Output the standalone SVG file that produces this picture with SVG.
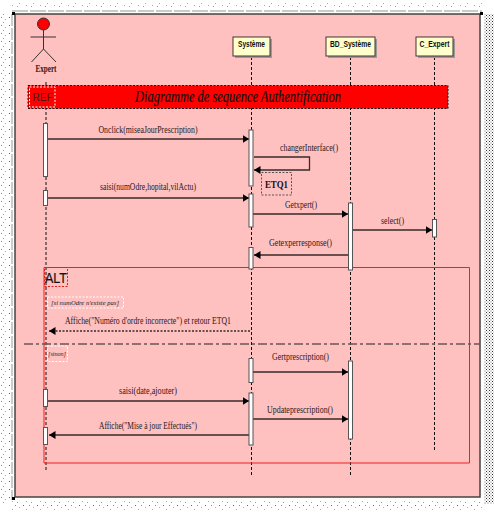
<svg xmlns="http://www.w3.org/2000/svg" width="494" height="512" viewBox="0 0 494 512">
<style>
.life{stroke:#111;stroke-width:1;stroke-dasharray:3 2;fill:none}
.act{fill:#fff;stroke:#555;stroke-width:1}
.msg{stroke:#3a2a2a;stroke-width:1.3;fill:none}
.node{fill:#ffffcc;stroke:#443333;stroke-width:1}
.shadow{fill:#999}
.nt{font-family:"Liberation Sans",sans-serif;font-size:8.5px;font-weight:bold;fill:#111;text-anchor:middle}
.lb{font-family:"Liberation Serif",serif;font-size:9.5px;fill:#2a1a1a;text-anchor:middle}
.small{font-family:"Liberation Serif",serif;font-size:6.5px;font-style:italic;fill:#222}
.box{fill:none;stroke:#fff;stroke-width:1;stroke-dasharray:2 1.5}
</style>
<defs>
<marker id="ah" markerWidth="7" markerHeight="9" refX="6.5" refY="4" orient="auto" markerUnits="userSpaceOnUse"><path d="M0 0L6.500 4L0 8Z" fill="#000"/></marker>
<pattern id="lt" width="14" height="8" patternUnits="userSpaceOnUse"><rect x="1" y="1" width="1" height="1" fill="#888"/><rect x="5" y="3" width="1" height="1" fill="#aaa"/><rect x="9" y="1" width="1" height="1" fill="#666"/><rect x="12" y="5" width="1" height="1" fill="#aaa"/><rect x="3" y="6" width="1" height="1" fill="#999"/></pattern>
<pattern id="dk" width="3" height="3" patternUnits="userSpaceOnUse"><rect width="1" height="1" fill="#333"/><rect x="1.500" y="1.500" width="1" height="1" fill="#666"/></pattern>
</defs>
<rect width="494" height="512" fill="#fff"/>
<rect x="12" y="2" width="470" height="5" fill="url(#lt)"/>
<rect x="12" y="501" width="470" height="9" fill="url(#lt)"/>
<rect x="1" y="14" width="10" height="490" fill="url(#lt)"/>
<rect x="484" y="14" width="10" height="490" fill="url(#dk)"/>
<rect x="15" y="14" width="465" height="483" fill="#ffc0c0" stroke="#444" stroke-width="1.500"/>
<path d="M12 11H482" stroke="#bbb" stroke-width="1.500" stroke-dasharray="16 2" fill="none"/>
<path d="M12 14V500" stroke="#ccc" stroke-width="2" stroke-dasharray="12 2" fill="none"/>
<rect x="12" y="12" width="3" height="3" fill="#000"/><rect x="12" y="497" width="3" height="3" fill="#000"/><rect x="480" y="12" width="3" height="3" fill="#000"/>

<g id="connectors">
<path class="life" d="M46 82V470"/>
<path class="life" d="M251.500 57V475"/>
<path class="life" d="M350.500 57V475"/>
<path class="life" d="M434.500 57V451"/>
<path d="M44 463V267.500H469.500V463H44Z" fill="none" stroke="#f02020" stroke-width="1"/>
<path d="M24 344H480" stroke="#6b5555" stroke-width="1.500" stroke-dasharray="9 3 3 3" fill="none"/>
</g>

<g id="banner">
<rect x="28" y="85.500" width="420" height="23" fill="#ff0000" stroke="#111" stroke-dasharray="2 1.500"/>
<rect x="29.500" y="87" width="25.500" height="20" class="box"/>
<text x="42.500" y="100.500" font-family="Liberation Sans,sans-serif" font-size="11" fill="#222" text-anchor="middle" textLength="20" lengthAdjust="spacingAndGlyphs">REF</text>
<text x="238" y="102" font-family="Liberation Serif,serif" font-size="17" font-style="italic" fill="#111" stroke="#111" stroke-width="0.2" text-anchor="middle" textLength="206" lengthAdjust="spacingAndGlyphs">Diagramme de sequence Authentification</text>
</g>

<g id="actor-expert">
<circle cx="43.500" cy="24" r="6" fill="#ff0000" stroke="#333"/>
<path d="M43.500 30V49M30.500 37H56M43.500 49L31.500 62M43.500 49L56 62" stroke="#333" stroke-width="1" fill="none"/>
<text x="46" y="72" class="lb" font-weight="bold" textLength="21" lengthAdjust="spacingAndGlyphs">Expert</text>
</g>

<g id="node-systeme"><rect x="235" y="39" width="37" height="19" class="shadow"/><rect x="233" y="37" width="37" height="19" class="node"/><text x="251.500" y="47" class="nt" textLength="27" lengthAdjust="spacingAndGlyphs">Système</text></g>
<g id="node-bd"><rect x="328" y="39" width="49" height="19" class="shadow"/><rect x="326" y="37" width="49" height="19" class="node"/><text x="350.500" y="47" class="nt" textLength="41" lengthAdjust="spacingAndGlyphs">BD_Système</text></g>
<g id="node-cexpert"><rect x="418" y="39" width="37" height="19" class="shadow"/><rect x="416" y="37" width="37" height="19" class="node"/><text x="434.500" y="47" class="nt" textLength="30" lengthAdjust="spacingAndGlyphs">C_Expert</text></g>

<g id="messages">
<path class="msg" marker-end="url(#ah)" d="M48 139H249"/>
<path class="msg" marker-end="url(#ah)" d="M254 157H309.500V170H254"/>
<path class="msg" marker-end="url(#ah)" d="M48 198H249"/>
<path class="msg" marker-end="url(#ah)" d="M253 214H348"/>
<path class="msg" marker-end="url(#ah)" d="M352 230H432"/>
<path class="msg" marker-end="url(#ah)" d="M348 255H254"/>
<path class="msg" marker-end="url(#ah)" stroke-dasharray="2 1.500" d="M250 331H49"/>
<path class="msg" marker-end="url(#ah)" d="M253 372H348"/>
<path class="msg" marker-end="url(#ah)" d="M48 401H249"/>
<path class="msg" marker-end="url(#ah)" d="M253 419H348"/>
<path class="msg" marker-end="url(#ah)" d="M249 435H49"/>
</g>

<g id="activations">
<rect class="act" x="43.500" y="123.500" width="4" height="53"/>
<rect class="act" x="43.500" y="190.500" width="4" height="15"/>
<rect class="act" x="43.500" y="389.500" width="4" height="17"/>
<rect class="act" x="43.500" y="427.500" width="4" height="17"/>
<rect class="act" x="249" y="130" width="4" height="56"/>
<rect class="act" x="249" y="194" width="4" height="33"/>
<rect class="act" x="249" y="247.500" width="4" height="21.500"/>
<rect class="act" x="249" y="358.500" width="4" height="24"/>
<rect class="act" x="249" y="393" width="4" height="52"/>
<rect class="act" x="348.500" y="203" width="4" height="67"/>
<rect class="act" x="348.500" y="361" width="4" height="78"/>
<rect class="act" x="432.500" y="219.500" width="4" height="17.500"/>
</g>

<g id="labels">
<text x="148" y="133" class="lb" textLength="99" lengthAdjust="spacingAndGlyphs">Onclick(miseaJourPrescription)</text>
<text x="309" y="151" class="lb" textLength="58" lengthAdjust="spacingAndGlyphs">changerInterface()</text>
<rect x="261.500" y="172.500" width="30" height="22.500" fill="none" stroke="#555" stroke-dasharray="2 1.500"/>
<text x="276.500" y="187.500" font-family="Liberation Serif,serif" font-size="11" font-weight="bold" fill="#111" text-anchor="middle" textLength="23" lengthAdjust="spacingAndGlyphs">ETQ1</text>
<text x="148" y="190" class="lb" textLength="96" lengthAdjust="spacingAndGlyphs">saisi(numOdre,hopital,vilActu)</text>
<text x="301" y="208" class="lb" textLength="32" lengthAdjust="spacingAndGlyphs">Getxpert()</text>
<text x="392.500" y="224" class="lb" textLength="23" lengthAdjust="spacingAndGlyphs">select()</text>
<text x="300.500" y="246" class="lb" textLength="63" lengthAdjust="spacingAndGlyphs">Getexperresponse()</text>
<rect x="44.500" y="267.500" width="23" height="19" fill="none" stroke="#e02020" stroke-dasharray="2 1.500"/>
<text x="45" y="283" font-family="Liberation Sans,sans-serif" font-size="14" fill="#111" stroke="#111" stroke-width="0.2" textLength="22" lengthAdjust="spacingAndGlyphs">ALT</text>
<rect x="47.500" y="297" width="76" height="11" class="box"/>
<text x="51" y="305" class="small" textLength="68" lengthAdjust="spacingAndGlyphs">[si numOdre n'existe pas]</text>
<text x="148" y="324" class="lb" textLength="166" lengthAdjust="spacingAndGlyphs">Affiche("Numéro d'ordre incorrecte") et retour ETQ1</text>
<rect x="47.500" y="346" width="20" height="15.500" class="box"/>
<text x="48" y="356" class="small" textLength="18" lengthAdjust="spacingAndGlyphs">[sinon]</text>
<text x="300.500" y="360" class="lb" textLength="57" lengthAdjust="spacingAndGlyphs">Gertprescription()</text>
<text x="148" y="394" class="lb" textLength="58" lengthAdjust="spacingAndGlyphs">saisi(date,ajouter)</text>
<text x="300" y="413" class="lb" textLength="66" lengthAdjust="spacingAndGlyphs">Updateprescription()</text>
<text x="148" y="429" class="lb" textLength="98" lengthAdjust="spacingAndGlyphs">Affiche("Mise à jour Effectués")</text>
</g>
</svg>
